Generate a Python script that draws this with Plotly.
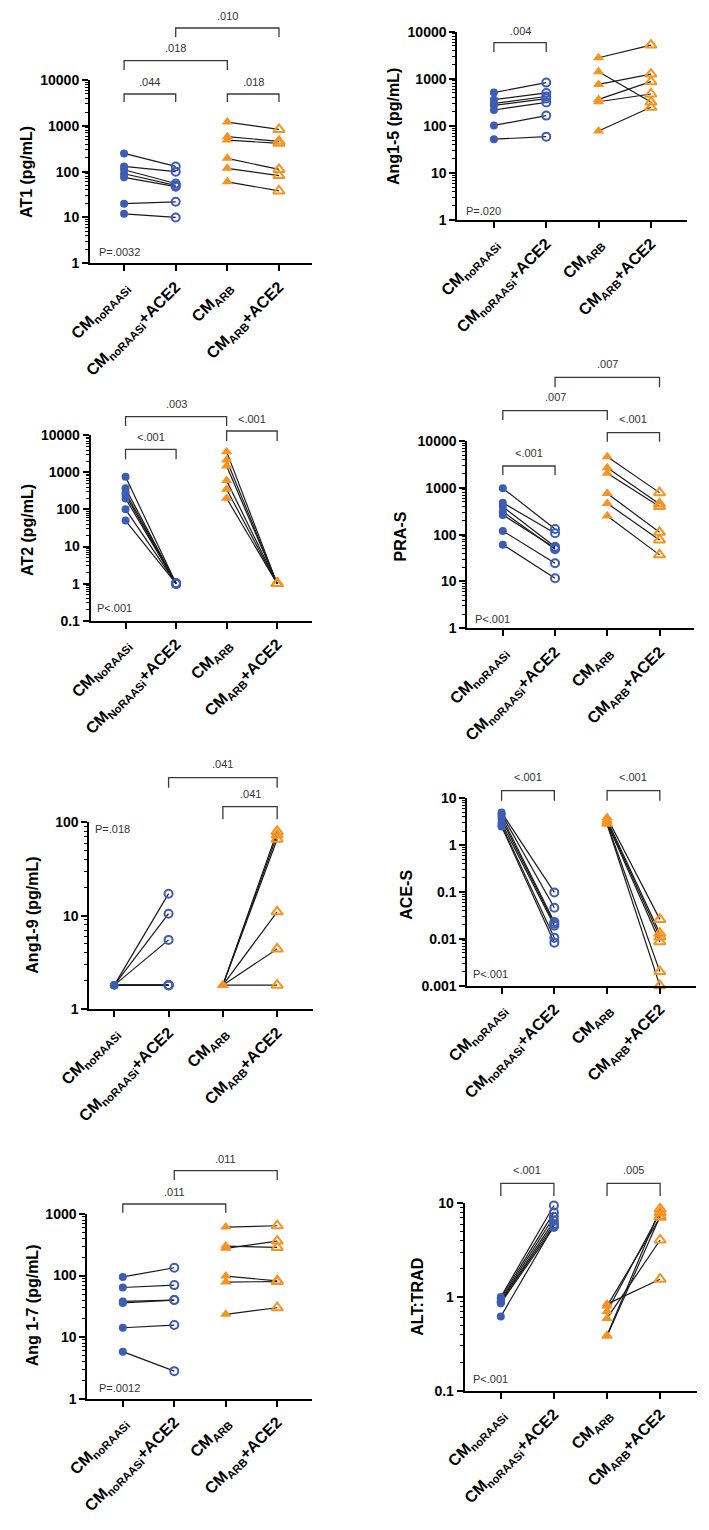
import plotly.graph_objects as go

W, H = 709, 1530
OFF = 8  # the page body margin shifts the figure by this many pixels
FONT = "Liberation Sans, Arial, Helvetica, sans-serif"
BLUE = "#3C5CB6"
ORANGE = "#F7931E"

# ---------------- categories / tick labels ----------------
CATS = ["CM<sub>noRAASi</sub>", "CM<sub>noRAASi</sub>+ACE2", "CM<sub>ARB</sub>", "CM<sub>ARB</sub>+ACE2"]
CATS_AT2 = ["CM<sub>NoRAASi</sub>", "CM<sub>NoRAASi</sub>+ACE2", "CM<sub>ARB</sub>", "CM<sub>ARB</sub>+ACE2"]

# ---------------- data ----------------
AT1_noRAASi      = [250, 130, 110, 90, 75, 20, 12]
AT1_noRAASi_ACE2 = [130, 100, 55, 50, 47, 22, 10]
AT1_ARB          = [1210, 580, 490, 195, 118, 60]
AT1_ARB_ACE2     = [835, 460, 415, 112, 82, 38]

ANG15_noRAASi      = [510, 360, 300, 272, 217, 102, 52]
ANG15_noRAASi_ACE2 = [830, 500, 420, 380, 315, 165, 59]
ANG15_ARB          = [2800, 1410, 760, 365, 325, 78]
ANG15_ARB_ACE2     = [5200, 320, 1260, 870, 475, 248]

AT2_noRAASi      = [767, 373, 291, 246, 199, 101, 50]
AT2_noRAASi_ACE2 = [1, 1, 1, 1, 1, 1, 1]
AT2_ARB          = [3630, 2150, 1480, 600, 350, 200]
AT2_ARB_ACE2     = [1, 1, 1, 1, 1, 1]

PRAS_noRAASi      = [977, 480, 395, 309, 263, 120, 61]
PRAS_noRAASi_ACE2 = [132, 107, 55, 49, 52, 24.4, 11.7]
PRAS_ARB          = [4630, 2700, 2040, 760, 465, 250]
PRAS_ARB_ACE2     = [790, 452, 398, 112, 77, 37]

ANG19_noRAASi      = [1.8, 1.8, 1.8, 1.8, 1.8, 1.8, 1.8]
ANG19_noRAASi_ACE2 = [17.2, 10.5, 5.5, 1.8, 1.8, 1.8, 1.8]
ANG19_ARB          = [1.8, 1.8, 1.8, 1.8, 1.8, 1.8]
ANG19_ARB_ACE2     = [80, 73, 66, 11, 4.4, 1.8]

ACES_noRAASi      = [5.0, 4.6, 4.1, 3.6, 3.0, 2.7, 2.5]
ACES_noRAASi_ACE2 = [0.098, 0.046, 0.023, 0.021, 0.019, 0.0106, 0.0083]
ACES_ARB          = [3.9, 3.5, 3.2, 3.0, 2.9, 2.8]
ACES_ARB_ACE2     = [0.026, 0.0131, 0.011, 0.0087, 0.002, 0.001]

ANG17_noRAASi      = [95, 64, 38, 36, 14.2, 5.8]
ANG17_noRAASi_ACE2 = [134, 70, 40, 40, 15.7, 2.8]
ANG17_ARB          = [614, 302, 277, 98, 78.5, 23.5]
ANG17_ARB_ACE2     = [645, 287, 364, 82, 80, 30]

ALT_noRAASi      = [1.0, 0.97, 0.93, 0.90, 0.88, 0.86, 0.62]
ALT_noRAASi_ACE2 = [9.5, 8.0, 7.2, 6.5, 6.0, 5.6, 5.8]
ALT_ARB          = [0.84, 0.80, 0.70, 0.59, 0.39, 0.38]
ALT_ARB_ACE2     = [1.55, 7.1, 8.0, 4.06, 8.7, 7.3]

# ---------------- panel layout (pixel geometry in the page) ----------------
PANELS = [
    dict(data=(AT1_noRAASi, AT1_noRAASi_ACE2, AT1_ARB, AT1_ARB_ACE2), cats=CATS,
         title="AT1 (pg/mL)", ylog=(0, 4), x0=90, x1=312, yt=80, yb=263.3, xr=(-0.66, 3.64),
         brackets=[(0, 1, 94, 102, ".044", 82), (2, 3, 94, 102, ".018", 82),
                   (0, 2, 60.7, 70, ".018", 48), (1, 3, 28, 37, ".010", 16)],
         ptext="P=.0032", pxy=(97, 252), ttl=(27, 172)),
    dict(data=(ANG15_noRAASi, ANG15_noRAASi_ACE2, ANG15_ARB, ANG15_ARB_ACE2), cats=CATS,
         title="Ang1-5 (pg/mL)", ylog=(0, 4), x0=457.3, x1=687, yt=31.7, yb=220, xr=(-0.70, 3.69),
         brackets=[(0, 1, 42.7, 52, ".004", 31)],
         ptext="P=.020", pxy=(464, 211), ttl=(394, 127)),
    dict(data=(AT2_noRAASi, AT2_noRAASi_ACE2, AT2_ARB, AT2_ARB_ACE2), cats=CATS_AT2,
         title="AT2 (pg/mL)", ylog=(-1, 4), x0=90.7, x1=312, yt=435.3, yb=620.7, xr=(-0.69, 3.69),
         brackets=[(0, 1, 449.3, 459.3, "<.001", 437), (2, 3, 431, 441, "<.001", 419),
                   (0, 2, 416.7, 426, ".003", 404)],
         ptext="P<.001", pxy=(95, 608), ttl=(27, 530)),
    dict(data=(PRAS_noRAASi, PRAS_noRAASi_ACE2, PRAS_ARB, PRAS_ARB_ACE2), cats=CATS,
         title="PRA-S", ylog=(0, 4), x0=467.3, x1=694, yt=441, yb=628.3, xr=(-0.68, 3.66),
         brackets=[(0, 1, 466, 475, "<.001", 452.7), (2, 3, 432.7, 441.7, "<.001", 419.3),
                   (0, 2, 410.7, 420, ".007", 397.3), (1, 3, 377.3, 387.3, ".007", 364)],
         ptext="P<.001", pxy=(473, 619.3), ttl=(400.7, 536.7)),
    dict(data=(ANG19_noRAASi, ANG19_noRAASi_ACE2, ANG19_ARB, ANG19_ARB_ACE2), cats=CATS,
         title="Ang1-9 (pg/mL)", ylog=(0, 2), x0=89.3, x1=313, yt=822.3, yb=1009, xr=(-0.46, 3.66),
         brackets=[(2, 3, 806.7, 819.3, ".041", 794), (1, 3, 777.7, 787.7, ".041", 764)],
         ptext="P=.018", pxy=(92.7, 829.3), ttl=(31.7, 915)),
    dict(data=(ACES_noRAASi, ACES_noRAASi_ACE2, ACES_ARB, ACES_ARB_ACE2), cats=CATS,
         title="ACE-S", ylog=(-3, 1), x0=467.3, x1=695.7, yt=798.3, yb=985.7, xr=(-0.65, 3.68),
         brackets=[(0, 1, 790.7, 800.7, "<.001", 777.3), (2, 3, 790.7, 800.7, "<.001", 777.3)],
         ptext="P<.001", pxy=(470.7, 974.3), ttl=(405.7, 895)),
    dict(data=(ANG17_noRAASi, ANG17_noRAASi_ACE2, ANG17_ARB, ANG17_ARB_ACE2), cats=CATS,
         title="Ang 1-7 (pg/mL)", ylog=(0, 3), x0=87.3, x1=311.7, yt=1214, yb=1398.7, xr=(-0.69, 3.67),
         brackets=[(0, 2, 1204, 1212.7, ".011", 1192.3), (1, 3, 1170.7, 1180, ".011", 1159)],
         ptext="P=.0012", pxy=(96.7, 1388.3), ttl=(32.3, 1305)),
    dict(data=(ALT_noRAASi, ALT_noRAASi_ACE2, ALT_ARB, ALT_ARB_ACE2), cats=CATS,
         title="ALT:TRAD", ylog=(-1, 1), x0=464.7, x1=697.3, yt=1203.3, yb=1390.7, xr=(-0.68, 3.70),
         brackets=[(0, 1, 1183.3, 1196, "<.001", 1170), (2, 3, 1183.3, 1196, ".005", 1170)],
         ptext="P<.001", pxy=(471.3, 1379.3), ttl=(418, 1296.7)),
]


def fx(p):
    return (p - OFF) / W


def fy(p):
    return 1 - (p - OFF) / H


def pair_xy(a, b, xa, xb):
    xs, ys = [], []
    for u, v in zip(a, b):
        xs += [xa, xb, None]
        ys += [u, v, None]
    return xs, ys


fig = go.Figure()
shapes, annotations = [], []
layout = {}

for k, p in enumerate(PANELS, start=1):
    xr = "x" if k == 1 else f"x{k}"
    yr = "y" if k == 1 else f"y{k}"
    pre_b, post_b, pre_o, post_o = p["data"]

    # connecting lines
    for a, b, xa, xb in [(pre_b, post_b, 0, 1), (pre_o, post_o, 2, 3)]:
        xs, ys = pair_xy(a, b, xa, xb)
        fig.add_trace(go.Scatter(x=xs, y=ys, mode="lines", xaxis=xr, yaxis=yr,
                                 line=dict(color="#1a1a1a", width=1.2),
                                 showlegend=False, hoverinfo="skip"))
    # markers
    specs = [
        (pre_b, 0, "circle", 8, BLUE, 0),
        (post_b, 1, "circle-open", 8, BLUE, 2),
        (pre_o, 2, "triangle-up", 10, ORANGE, 0),
        (post_o, 3, "triangle-up-open", 10, ORANGE, 2),
    ]
    for vals, xi, sym, size, col, lw in specs:
        fig.add_trace(go.Scatter(x=[xi] * len(vals), y=vals, mode="markers", xaxis=xr, yaxis=yr,
                                 marker=dict(symbol=sym, size=size, color=col,
                                             line=dict(color=col, width=lw)),
                                 cliponaxis=False, showlegend=False))

    lo, hi = p["ylog"]
    major = [10 ** d for d in range(lo, hi + 1)]
    minor = [m * 10 ** d for d in range(lo, hi) for m in range(2, 10)]
    ticktext = [f"{v:g}" for v in major]

    layout["xaxis" if k == 1 else f"xaxis{k}"] = dict(
        domain=[fx(p["x0"]), fx(p["x1"])], range=list(p["xr"]), anchor=yr, automargin=False,
        tickmode="array", tickvals=[0, 1, 2, 3], ticktext=p["cats"], tickangle=-45,
        tickfont=dict(family=FONT, size=16, color="black", weight="bold"),
        showline=True, linewidth=2, linecolor="black", ticks="outside", ticklen=6,
        tickwidth=1.5, tickcolor="black", showgrid=False, zeroline=False, fixedrange=True)
    layout["yaxis" if k == 1 else f"yaxis{k}"] = dict(
        domain=[fy(p["yb"]), fy(p["yt"])], type="log", range=[lo - 0.0005, hi + 0.0005],
        anchor=xr, automargin=False, tickmode="array", tickvals=major, ticktext=ticktext,
        tickfont=dict(family=FONT, size=14, color="black", weight="bold"),
        showline=True, linewidth=2, linecolor="black", ticks="outside", ticklen=6,
        tickwidth=2, tickcolor="black", showgrid=False, zeroline=False, fixedrange=True,
        minor=dict(tickmode="array", tickvals=minor, ticks="outside", ticklen=3,
                   tickwidth=1, tickcolor="black", showgrid=False))

    # significance brackets
    for i, j, top, leg, lab, ly in p["brackets"]:
        path = (f"M {i},{fy(leg)} L {i},{fy(top)} L {j},{fy(top)} L {j},{fy(leg)}")
        shapes.append(dict(type="path", path=path, xref=xr, yref="paper",
                           line=dict(color="#3a3a3a", width=1.3)))
        annotations.append(dict(x=(i + j) / 2, y=fy(ly), xref=xr, yref="paper", text=lab,
                                showarrow=False, xanchor="center", yanchor="middle",
                                font=dict(family=FONT, size=11, color="#333333")))
    # overall p-value
    annotations.append(dict(x=fx(p["pxy"][0]), y=fy(p["pxy"][1]), xref="paper", yref="paper",
                            text=p["ptext"], showarrow=False, xanchor="left", yanchor="middle",
                            font=dict(family=FONT, size=11, color="#333333")))
    # y title
    annotations.append(dict(x=fx(p["ttl"][0]), y=fy(p["ttl"][1]), xref="paper", yref="paper",
                            text=p["title"], textangle=-90, showarrow=False,
                            xanchor="center", yanchor="middle",
                            font=dict(family=FONT, size=16, color="black", weight="bold")))

fig.update_layout(**layout)
fig.update_layout(template="none", width=W, height=H, autosize=False,
                  margin=dict(l=0, r=0, t=0, b=0, pad=0),
                  paper_bgcolor="white", plot_bgcolor="white", showlegend=False,
                  shapes=shapes, annotations=annotations)

fig.write_html("out.html")
